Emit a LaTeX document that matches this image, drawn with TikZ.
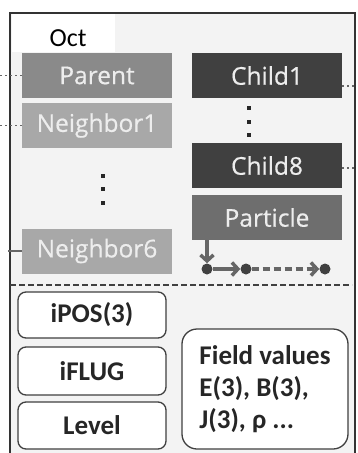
\documentclass[tikz,border=0pt]{standalone}
\usepackage{fontspec}
\setmainfont{Carlito}
\newfontfamily\boxfont[FakeBold=0.5]{Open Sans}
\usetikzlibrary{arrows.meta}
\definecolor{bgc}{HTML}{F3F3F3}
\definecolor{parentc}{HTML}{8A8A8A}
\definecolor{neighc}{HTML}{A8A8A8}
\definecolor{childc}{HTML}{404040}
\definecolor{partc}{HTML}{6E6E6E}
\definecolor{txtc}{HTML}{EDEDED}
\definecolor{framec}{HTML}{333333}
\definecolor{arrc}{HTML}{666666}
\tikzset{
  tbox/.style={rectangle, minimum width=150pt, minimum height=45pt, inner sep=0pt,
    text=txtc, font=\boxfont\fontsize{24.5}{28}\selectfont},
  rbox/.style={rectangle, rounded corners=8pt, draw=childc, line width=1.3pt, fill=white,
    minimum width=148pt, inner sep=0pt, font=\bfseries\fontsize{27}{32}\selectfont, text=black!85},
  vdot/.style={fill=black!85, minimum size=4.5pt, inner sep=0pt, rectangle},
  pdot/.style={circle, fill=childc, minimum width=11pt, minimum height=11pt, inner sep=0pt},
  conn/.style={arrc, line width=1.5pt, dash pattern=on 2pt off 3pt},
  parr/.style={draw=arrc, line width=3.5pt, -{Straight Barb[length=6pt,width=13pt]}}
}
\begin{document}
\begin{tikzpicture}[x=1pt,y=-1pt]
\useasboundingbox (0,0) rectangle (357,453);
% frame
\fill[bgc] (10,13) rectangle (355,460);
\fill[white] (12,14) rectangle (115,52);
\draw[framec, line width=2pt] (10,460) -- (10,13) -- (355,13) -- (355,460);
\node[font=\fontsize{26}{28}\selectfont, anchor=base] (oct) at (68,46) {Oct};
% left column
\node[tbox, fill=parentc] (parent) at (97,75.5) {Parent};
\node[tbox, fill=neighc] (n1) at (97,125.5) {Neighbor1};
\node[tbox, fill=neighc] (n6) at (97,251) {Neighbor6};
\node[vdot] (ld1) at (103,176) {};
\node[vdot] (ld2) at (103,189) {};
\node[vdot] (ld3) at (103,203) {};
% right column
\node[tbox, fill=childc] (c1) at (267,75.5) {Child1};
\node[tbox, fill=childc] (c8) at (267,165.5) {Child8};
\node[tbox, fill=partc] (part) at (267,217.5) {Particle};
\node[vdot] (rd1) at (249,108) {};
\node[vdot] (rd2) at (249,122) {};
\node[vdot] (rd3) at (249,135) {};
% external connectors
\coordinate (pl) at (0,75.5);
\coordinate (n1l) at (0,125.5);
\coordinate (n6l) at (8,251);
\coordinate (c1r) at (357,86);
\coordinate (c8r) at (357,168);
\draw[conn] (pl) -- (parent.west);
\draw[conn] (n1l) -- (n1.west);
\draw[arrc, line width=1.5pt] (n6l) -- (n6.west);
\draw[conn] (c1.east |- c1r) -- (c1r);
\draw[conn] (c8.east |- c8r) -- (c8r);
% particle list
\node[pdot] (p1) at (207,269) {};
\node[pdot] (p2) at (246,269) {};
\node[pdot] (p3) at (325,269) {};
\draw[parr] (part.south -| p1) -- (p1.north);
\draw[parr] (p1.east) -- (p2.west);
\draw[parr, dash pattern=on 7pt off 4pt] (p2.east) -- (p3.west);
% separator
\coordinate (sl) at (10,285);
\coordinate (sr) at (352,285);
\draw[black!75, line width=1.4pt, dash pattern=on 6pt off 3pt] (sl) -- (sr);
% bottom boxes
\node[rbox, minimum height=46pt] (ipos) at (92,315) {iPOS(3)};
\node[rbox, minimum height=48pt] (iflug) at (92,371) {iFLUG};
\node[rbox, minimum height=47pt] (level) at (92,425.5) {Level};
\node[rbox, minimum width=166pt, minimum height=120pt, rounded corners=15pt, align=left] (field) at (265,389) {Field values\\E(3), B(3),\\J(3), ρ ...};
\end{tikzpicture}
\end{document}
